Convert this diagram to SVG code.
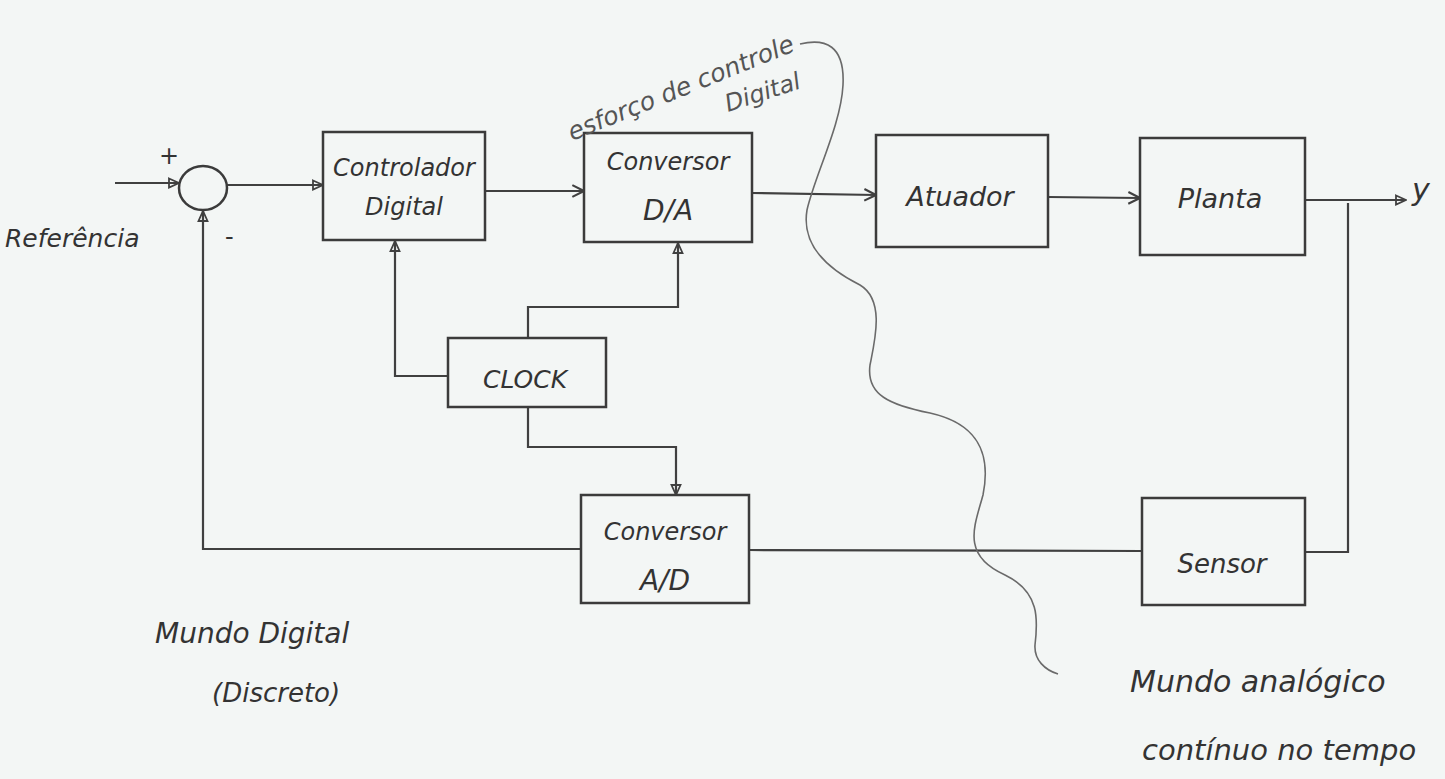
<svg xmlns="http://www.w3.org/2000/svg" width="1445" height="779" viewBox="0 0 1445 779">
<style>
.bg{fill:#f3f6f5}
.box{fill:none;stroke:#3b3b3b;stroke-width:2.5}
.ln{fill:none;stroke:#404040;stroke-width:2.2}
.wave{fill:none;stroke:#6a6a6a;stroke-width:1.6}
.t{font-family:"DejaVu Sans","Liberation Sans",sans-serif;font-style:italic;fill:#333}
.tc{text-anchor:middle}
</style>
<defs>
<marker id="chev" viewBox="0 0 12 12" refX="11" refY="6" markerWidth="14" markerHeight="14" markerUnits="userSpaceOnUse" orient="auto">
<path d="M1,1 L11,6 L1,11" fill="none" stroke="#404040" stroke-width="1.8"/>
</marker>
<marker id="tri" viewBox="0 0 12 12" refX="11" refY="6" markerWidth="12" markerHeight="12" markerUnits="userSpaceOnUse" orient="auto">
<path d="M1,1.5 L11,6 L1,10.5 Z" fill="none" stroke="#404040" stroke-width="1.8"/>
</marker>
</defs>
<rect class="bg" x="0" y="0" width="1445" height="779"/>

<g id="connectors">
<line class="ln" x1="115" y1="183" x2="179" y2="183" marker-end="url(#tri)"/>
<line class="ln" x1="227" y1="185" x2="323" y2="185" marker-end="url(#tri)"/>
<line class="ln" x1="485" y1="191" x2="584" y2="191" marker-end="url(#chev)"/>
<line class="ln" x1="752" y1="193" x2="876" y2="195" marker-end="url(#chev)"/>
<line class="ln" x1="1048" y1="197" x2="1140" y2="198" marker-end="url(#chev)"/>
<line class="ln" x1="1305" y1="200" x2="1406" y2="200" marker-end="url(#tri)"/>
<polyline class="ln" points="1348,203 1348,552 1305,552"/>
<line class="ln" x1="1142" y1="551" x2="749" y2="550"/>
<polyline class="ln" points="581,549 203,549 203,211" marker-end="url(#tri)"/>
<polyline class="ln" points="448,376 395,376 395,241" marker-end="url(#tri)"/>
<polyline class="ln" points="528,338 528,307 678,307 678,243" marker-end="url(#tri)"/>
<polyline class="ln" points="528,407 528,447 676,447 676,495" marker-end="url(#tri)"/>
</g>

<g id="sum">
<ellipse class="box" cx="203" cy="188" rx="24" ry="22" stroke-width="2.2"/>
<text class="t" x="159" y="164" style="font-size:24px;font-style:normal">+</text>
<text class="t" x="225" y="245" style="font-size:24px;font-style:normal">-</text>
</g>

<g id="referencia"><text class="t" x="5" y="247" style="font-size:25px">Referência</text></g>

<g id="controlador">
<rect class="box" x="323" y="132" width="162" height="108"/>
<text class="t tc" x="404" y="176" style="font-size:24px">Controlador</text>
<text class="t tc" x="404" y="215" style="font-size:24px">Digital</text>
</g>

<g id="conversor-da">
<rect class="box" x="584" y="133" width="168" height="109"/>
<text class="t tc" x="668" y="170" style="font-size:24px">Conversor</text>
<text class="t tc" x="668" y="220" style="font-size:28px">D/A</text>
</g>

<g id="esforco">
<text class="t" x="572" y="141" style="font-size:25px;fill:#555" transform="rotate(-22 572 141)">esforço de controle</text>
<text class="t" x="728" y="112" style="font-size:24px;fill:#555" transform="rotate(-18 728 112)">Digital</text>
</g>

<g id="atuador">
<rect class="box" x="876" y="135" width="172" height="112"/>
<text class="t tc" x="960" y="206" style="font-size:27px">Atuador</text>
</g>

<g id="planta">
<rect class="box" x="1140" y="138" width="165" height="117"/>
<text class="t tc" x="1220" y="208" style="font-size:27px">Planta</text>
</g>

<g id="saida-y"><text class="t" x="1412" y="200" style="font-size:30px">y</text></g>

<g id="clock">
<rect class="box" x="448" y="338" width="158" height="69"/>
<text class="t tc" x="525" y="388" style="font-size:25px">CLOCK</text>
</g>

<g id="conversor-ad">
<rect class="box" x="581" y="495" width="168" height="108"/>
<text class="t tc" x="665" y="540" style="font-size:24px">Conversor</text>
<text class="t tc" x="665" y="590" style="font-size:28px">A/D</text>
</g>

<g id="sensor">
<rect class="box" x="1142" y="498" width="163" height="107"/>
<text class="t tc" x="1222" y="573" style="font-size:26px">Sensor</text>
</g>

<g id="fronteira">
<path class="wave" d="M800,44 C825,38 845,45 843,85 C841,125 815,175 807,210 C802,240 820,265 860,285 C885,300 875,340 870,365 C866,395 890,405 930,413 C975,423 992,450 983,495 C975,525 960,555 1005,575 C1040,592 1038,620 1035,645 C1034,660 1045,670 1058,674"/>
</g>

<g id="mundo-digital">
<text class="t" x="155" y="643" style="font-size:28px">Mundo  Digital</text>
<text class="t" x="212" y="702" style="font-size:26px">(Discreto)</text>
</g>

<g id="mundo-analogico">
<text class="t" x="1130" y="692" style="font-size:30px">Mundo  analógico</text>
<text class="t" x="1142" y="760" style="font-size:29px">contínuo no tempo</text>
</g>
</svg>
